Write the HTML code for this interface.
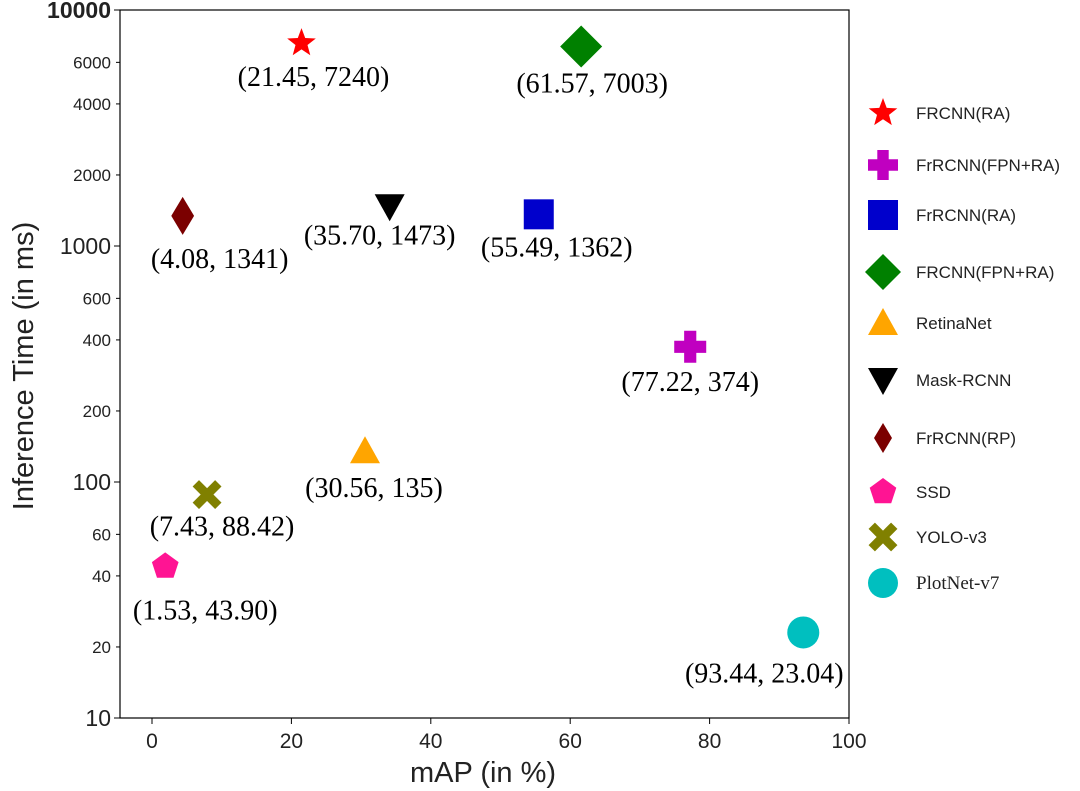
<!DOCTYPE html>
<html><head><meta charset="utf-8"><style>
body{margin:0;background:#fff;}
svg{display:block;}
.tk{font-family:"Liberation Sans",sans-serif;fill:#222;}
.lb{font-family:"Liberation Serif",serif;font-size:28px;fill:#000;}
.lg{font-family:"Liberation Sans",sans-serif;font-size:17px;fill:#222;}
</style></head><body>
<svg id="c" width="1080" height="791"></svg>
<script>
const names=["FRCNN(RA)","FrRCNN(FPN+RA)","FrRCNN(RA)","FRCNN(FPN+RA)","RetinaNet","Mask-RCNN","FrRCNN(RP)","SSD","YOLO-v3","PlotNet-v7"];
const mapVals=[21.45,77.22,55.49,61.57,30.56,34.1,4.4,1.9,7.9,93.44];
const timeVals=[7240,374,1362,7003,135,1473,1341,43.9,88.42,23.04];
const labelText=["(21.45, 7240)","(77.22, 374)","(55.49, 1362)","(61.57, 7003)","(30.56, 135)","(35.70, 1473)","(4.08, 1341)","(1.53, 43.90)","(7.43, 88.42)","(93.44, 23.04)"];
const xTicks=[0,20,40,60,80,100];
const yMajor=[10,100,1000,10000];
const yMinor=[20,40,60,200,400,600,2000,4000,6000];
const colors=["#ff0000","#c000c0","#0000cc","#008000","#ffa500","#000000","#7b0000","#ff1493","#808000","#00bfbf"];
const shapes=["star","plus","square","diamond","tri","tridown","thindiamond","pentagon","x","circle"];
const lblOff=[[12,43],[0,44],[18,42],[11,46],[9,46],[-10,38],[37,52],[40,53],[15,41],[-39,50]];
const legY=[113,165,215,272,323,380,438,492,537,583];

const L=120,R=849,T=10,B=718;
const xs=v=>152+(v)*(849-152)/100;
const ys=v=>B-(Math.log10(v)-1)*(B-T)/3;
const svg=document.getElementById('c');
const NS="http://www.w3.org/2000/svg";
function mk(t,a,p){const e=document.createElementNS(NS,t);for(const k in a)e.setAttribute(k,a[k]);(p||svg).appendChild(e);return e;}
function shape(s,x,y,sz,col){
  let r=sz/2;
  if(s=="star"){let pts=[];for(let i=0;i<10;i++){let rr=i%2?r*0.42:r;let a=-Math.PI/2+i*Math.PI/5;pts.push((x+rr*Math.cos(a)).toFixed(1)+","+(y+rr*Math.sin(a)).toFixed(1));}return mk('polygon',{points:pts.join(" "),fill:col});}
  if(s=="pentagon"){let pts=[];for(let i=0;i<5;i++){let a=-Math.PI/2+i*2*Math.PI/5;pts.push((x+r*Math.cos(a)).toFixed(1)+","+(y+r*Math.sin(a)).toFixed(1));}return mk('polygon',{points:pts.join(" "),fill:col});}
  if(s=="square")return mk('rect',{x:x-r,y:y-r,width:sz,height:sz,fill:col});
  if(s=="circle")return mk('circle',{cx:x,cy:y,r:r,fill:col});
  if(s=="diamond")return mk('polygon',{points:`${x},${y-r} ${x+r},${y} ${x},${y+r} ${x-r},${y}`,fill:col});
  if(s=="thindiamond")return mk('polygon',{points:`${x},${y-r} ${x+r*0.6},${y} ${x},${y+r} ${x-r*0.6},${y}`,fill:col});
  if(s=="tri")return mk('polygon',{points:`${x},${y-r} ${x+r},${y+r*0.8} ${x-r},${y+r*0.8}`,fill:col});
  if(s=="tridown")return mk('polygon',{points:`${x},${y+r} ${x+r},${y-r*0.8} ${x-r},${y-r*0.8}`,fill:col});
  if(s=="plus"){let w=r*0.38;return mk('path',{d:`M${x-w},${y-r}h${2*w}v${r-w}h${r-w}v${2*w}h${-(r-w)}v${r-w}h${-2*w}v${-(r-w)}h${-(r-w)}v${-2*w}h${r-w}z`,fill:col});}
  if(s=="x"){let g=mk('g',{});mk('line',{x1:x-r*0.75,y1:y-r*0.75,x2:x+r*0.75,y2:y+r*0.75,stroke:col,'stroke-width':sz*0.3},g);mk('line',{x1:x+r*0.75,y1:y-r*0.75,x2:x-r*0.75,y2:y+r*0.75,stroke:col,'stroke-width':sz*0.3},g);return g;}
}
const sizes=[30,32,30,42,30,30,38,28,30,32];
let fr=mk('rect',{x:L,y:T,width:R-L,height:B-T,fill:"none",stroke:"#000","stroke-width":1.2});

xTicks.forEach(v=>{let x=xs(v);mk('line',{x1:x,y1:B,x2:x,y2:B+6,stroke:"#000"});
  let t=mk('text',{x:x,y:B+30,'text-anchor':'middle',class:'tk','font-size':21});t.textContent=v;
  });
yMajor.forEach(v=>{let y=ys(v);mk('line',{x1:L-6,y1:y,x2:L,y2:y,stroke:"#000"});
  let t=mk('text',{x:L-9,y:y+8,'text-anchor':'end',class:'tk','font-size':23,'font-weight':v==10000?'bold':'normal'});t.textContent=v;
  });
yMinor.forEach(v=>{let y=ys(v);mk('line',{x1:L-4,y1:y,x2:L,y2:y,stroke:"#000"});
  let t=mk('text',{x:L-9,y:y+6,'text-anchor':'end',class:'tk','font-size':17});t.textContent=v;
  });
let xt=mk('text',{x:483,y:782,'text-anchor':'middle',class:'tk','font-size':29});xt.textContent="mAP (in %)";

let yt=mk('text',{x:0,y:0,'text-anchor':'middle',class:'tk','font-size':29,transform:`translate(33,366) rotate(-90)`});yt.textContent="Inference Time (in ms)";

names.forEach((n,i)=>{
  let x=xs(mapVals[i]),y=ys(timeVals[i]);
  let m=shape(shapes[i],x,y,sizes[i],colors[i]);
  
  
  let t=mk('text',{x:x+lblOff[i][0],y:y+lblOff[i][1],'text-anchor':'middle',class:'lb'});t.textContent=labelText[i];
  
  let lm=shape(shapes[i],883,legY[i],Math.min(sizes[i],30)*(i==3?1.2:1),colors[i]);
  
  let lt=mk('text',{x:916,y:legY[i]+6,class:'lg'});lt.textContent=n;
  if(i==9){lt.setAttribute('style','font-family:"Liberation Serif",serif;font-size:19px');}
  
});
</script>
</body></html>
